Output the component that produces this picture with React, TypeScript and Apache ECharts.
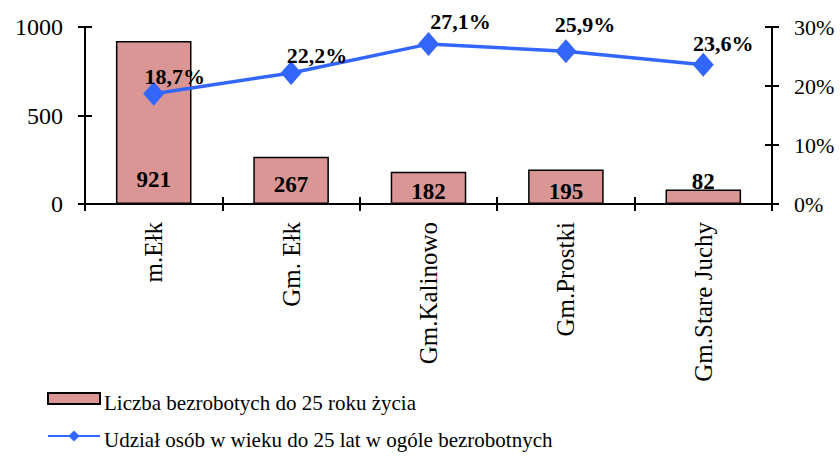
import React, { useEffect, useRef } from "react";
import * as echarts from "echarts";

const categories = ["m.Ełk", "Gm. Ełk", "Gm.Kalinowo", "Gm.Prostki", "Gm.Stare Juchy"];
const unemployedUnder25 = [921, 267, 182, 195, 82];
const sharePercent = [18.7, 22.2, 27.1, 25.9, 23.6];
const leftTicks = { min: 0, max: 1000, interval: 500 };
const rightTicks = { min: 0, max: 30, interval: 10 };
const barName = "Liczba bezrobotych do 25 roku życia";
const lineName = "Udział osób w wieku do 25 lat w ogóle bezrobotnych";

// label placement tweaks (style, not data)
const barLabelDistance = [13, 8, 1, 1, 11];
const lineLabelOffset = [
  [21, -17],
  [26, -18],
  [32, -23],
  [19, -27],
  [20, -21],
];

const FONT = "Liberation Serif";

export default function App() {
  const ref = useRef<HTMLDivElement>(null);
  useEffect(() => {
    document.body.style.margin = "0";
    if (!ref.current) return;
    const chart = echarts.init(ref.current, undefined, { renderer: "svg" });
    const axisLine = { show: true, lineStyle: { color: "#000", width: 2 } };
    const tickOut = { show: true, length: 7, lineStyle: { color: "#000", width: 2 } };
    const tickIn = { show: true, inside: true, length: 7, lineStyle: { color: "#000", width: 2 } };
    const legendTextStyle = { fontFamily: FONT, fontSize: 21, fill: "#000" };
    chart.setOption({
      animation: false,
      backgroundColor: "#fff",
      textStyle: { fontFamily: FONT },
      grid: { left: 85, right: 68, top: 27, bottom: 252, containLabel: false },
      legend: [
        {
          left: 47,
          top: 392,
          padding: 0,
          itemWidth: 52,
          itemHeight: 11,
          formatter: () => "",
          data: [{ name: barName, icon: "rect" }],
        },
        {
          left: 47,
          top: 429,
          padding: 0,
          itemWidth: 52,
          itemHeight: 14,
          formatter: () => "",
          data: [{ name: lineName }],
        },
      ],
      graphic: [
        {
          type: "text",
          left: 104,
          top: 392,
          style: { ...legendTextStyle, text: barName },
        },
        {
          type: "text",
          left: 104,
          top: 429,
          style: { ...legendTextStyle, text: lineName },
        },
      ],
      xAxis: [
        {
          type: "category",
          data: categories,
          position: "bottom",
          axisLine,
          axisTick: tickOut,
          axisLabel: {
            rotate: 90,
            margin: 18,
            fontFamily: FONT,
            fontSize: 25,
            color: "#000",
          },
          splitLine: { show: false },
        },
        {
          type: "category",
          data: categories,
          position: "bottom",
          axisLine: { show: false },
          axisTick: tickIn,
          axisLabel: { show: false },
          splitLine: { show: false },
        },
      ],
      yAxis: [
        {
          type: "value",
          position: "left",
          ...leftTicks,
          axisLine,
          axisTick: tickOut,
          axisLabel: {
            margin: 22,
            fontFamily: FONT,
            fontSize: 24,
            color: "#000",
            formatter: (v: number) => String(v),
          },
          splitLine: { show: false },
        },
        {
          type: "value",
          position: "right",
          ...rightTicks,
          axisLine,
          axisTick: tickOut,
          axisLabel: {
            margin: 22,
            fontFamily: FONT,
            fontSize: 22,
            color: "#000",
            formatter: "{value}%",
          },
          splitLine: { show: false },
        },
        {
          type: "value",
          position: "left",
          ...leftTicks,
          axisLine: { show: false },
          axisTick: tickIn,
          axisLabel: { show: false },
          splitLine: { show: false },
        },
        {
          type: "value",
          position: "right",
          ...rightTicks,
          axisLine: { show: false },
          axisTick: tickIn,
          axisLabel: { show: false },
          splitLine: { show: false },
        },
      ],
      series: [
        {
          name: barName,
          type: "bar",
          xAxisIndex: 0,
          yAxisIndex: 0,
          barWidth: "55%",
          itemStyle: { color: "#d99694", borderColor: "#000", borderWidth: 1.5 },
          data: unemployedUnder25.map((v, i) => ({
            value: v,
            label: {
              show: true,
              position: "insideBottom",
              distance: barLabelDistance[i],
              fontFamily: FONT,
              fontSize: 23,
              fontWeight: "bold",
              color: "#000",
            },
          })),
        },
        {
          name: lineName,
          type: "line",
          xAxisIndex: 0,
          yAxisIndex: 1,
          symbol: "diamond",
          symbolSize: [21, 24],
          itemStyle: { color: "#3366ff" },
          lineStyle: { color: "#3366ff", width: 3.5 },
          data: sharePercent.map((v, i) => ({
            value: v,
            label: {
              show: true,
              position: "inside",
              offset: lineLabelOffset[i],
              fontFamily: FONT,
              fontSize: 22,
              fontWeight: "bold",
              color: "#000",
              formatter: () => v.toFixed(1).replace(".", ",") + "%",
            },
          })),
          z: 3,
        },
      ],
    });
    return () => chart.dispose();
  }, []);
  return <div ref={ref} style={{ width: 840, height: 456 }} />;
}
